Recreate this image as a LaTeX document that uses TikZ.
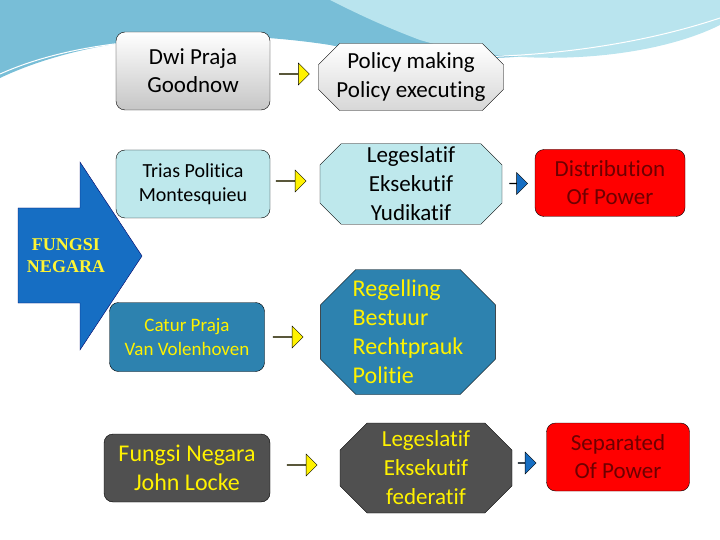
\documentclass[tikz,border=0pt]{standalone}
\usepackage{fontspec}
\setmainfont[Ligatures=NoCommon]{Carlito}
\newfontfamily\titlefont{Liberation Serif}
\usetikzlibrary{positioning,calc,shapes.misc,shapes.arrows}
\definecolor{wave}{RGB}{120,190,215}
\definecolor{wavelight}{RGB}{185,228,238}
\definecolor{bigblue}{RGB}{22,110,195}
\definecolor{midblue}{RGB}{45,130,175}
\definecolor{darkgray}{RGB}{80,80,80}
\definecolor{cyanbox}{RGB}{190,232,236}
\definecolor{graybox}{RGB}{215,215,215}
\definecolor{redtext}{RGB}{110,0,0}
\tikzset{
  box/.style={draw=black, rounded corners=9pt, align=center, font=\fontsize{23}{28}\selectfont, inner sep=0pt},
  oct/.style={draw=black, chamfered rectangle, chamfered rectangle xsep=18pt, align=center, font=\fontsize{23}{29}\selectfont, inner sep=0pt},
  yarrow/.style={draw=black, fill=yellow, single arrow, single arrow head extend=7pt, minimum height=30pt, minimum width=22pt, inner sep=0pt},
  barrow/.style={draw=black, fill=bigblue, single arrow, single arrow head extend=6pt, minimum height=18pt, minimum width=22pt, inner sep=0pt}
}
\begin{document}
\begin{tikzpicture}[x=1pt,y=-1pt]
\useasboundingbox (0,0) rectangle (720,540);
% background wave
\fill[wave] (0,0) -- (720,0) -- (720,15) .. controls (600,60) and (450,70) .. (330,45) .. controls (200,25) and (80,40) .. (0,78) -- cycle;
\fill[wavelight] (330,0) -- (720,0) -- (720,25) .. controls (650,60) and (520,70) .. (420,40) .. controls (380,25) and (350,10) .. (330,0) -- cycle;
\draw[white, line width=1pt] (0,74) .. controls (80,38) and (200,30) .. (330,48) .. controls (450,66) and (600,58) .. (720,18);
% big arrow
\draw[fill=bigblue, draw=blue!40!black] (18,208) -- (80,208) -- (80,162) -- (142,256) -- (80,350) -- (80,303) -- (18,303) -- cycle;
\node[font=\titlefont\bfseries\fontsize{18}{22}\selectfont, text=yellow!80!white, align=center] (fn) at (66,256) {FUNGSI\\NEGARA};
%
\node[box, minimum width=154pt, minimum height=78pt, top color=white, bottom color=graybox!80!gray] (dwi) at (193,71) {Dwi Praja\\Goodnow};
\node[oct, minimum width=182pt, minimum height=67pt, top color=white, bottom color=graybox] (pol) at (411,77) {Policy making\\Policy executing};
%
\node[box, minimum width=154pt, minimum height=68pt, fill=cyanbox, font=\fontsize{20}{24}\selectfont] (tri) at (193,184) {Trias Politica\\Montesquieu};
\node[oct, minimum width=182pt, minimum height=79pt, fill=cyanbox] (leg) at (411,184) {Legeslatif\\Eksekutif\\Yudikatif};
\node[box, minimum width=150pt, minimum height=67pt, fill=red, text=redtext] (dis) at (610,183) {Distribution\\Of Power};
%
\node[box, minimum width=155pt, minimum height=69pt, fill=midblue, text=yellow, font=\fontsize{19}{24}\selectfont] (cat) at (187,337) {Catur Praja\\Van Volenhoven};
\node[oct, minimum width=160pt, minimum height=125pt, chamfered rectangle xsep=32pt, fill=midblue, text=yellow, align=left, font=\fontsize{24}{29}\selectfont] (reg) at (408,332) {Regelling\\Bestuur\\Rechtprauk\\Politie};
%
\node[box, minimum width=166pt, minimum height=68pt, fill=darkgray, text=yellow, font=\fontsize{24}{29}\selectfont] (loc) at (187,468) {Fungsi Negara\\John Locke};
\node[oct, minimum width=172pt, minimum height=90pt, chamfered rectangle xsep=24pt, fill=darkgray, text=yellow] (fed) at (426,468) {Legeslatif\\Eksekutif\\federatif};
\node[box, minimum width=143pt, minimum height=68pt, fill=red, text=redtext] (sep) at (618,457) {Separated\\Of Power};
% connectors
\node[yarrow] (a1) at ($(dwi.east)!0.5!(pol.west)$) {};
\node[yarrow] (a2) at (291,181) {};
\node[yarrow] (a3) at (288,337) {};
\node[yarrow] (a4) at (302,465) {};
\node[barrow] (b1) at ($(leg.east)!0.5!(dis.west)$) {};
\node[barrow] (b2) at (527,463) {};
\end{tikzpicture}
\end{document}
